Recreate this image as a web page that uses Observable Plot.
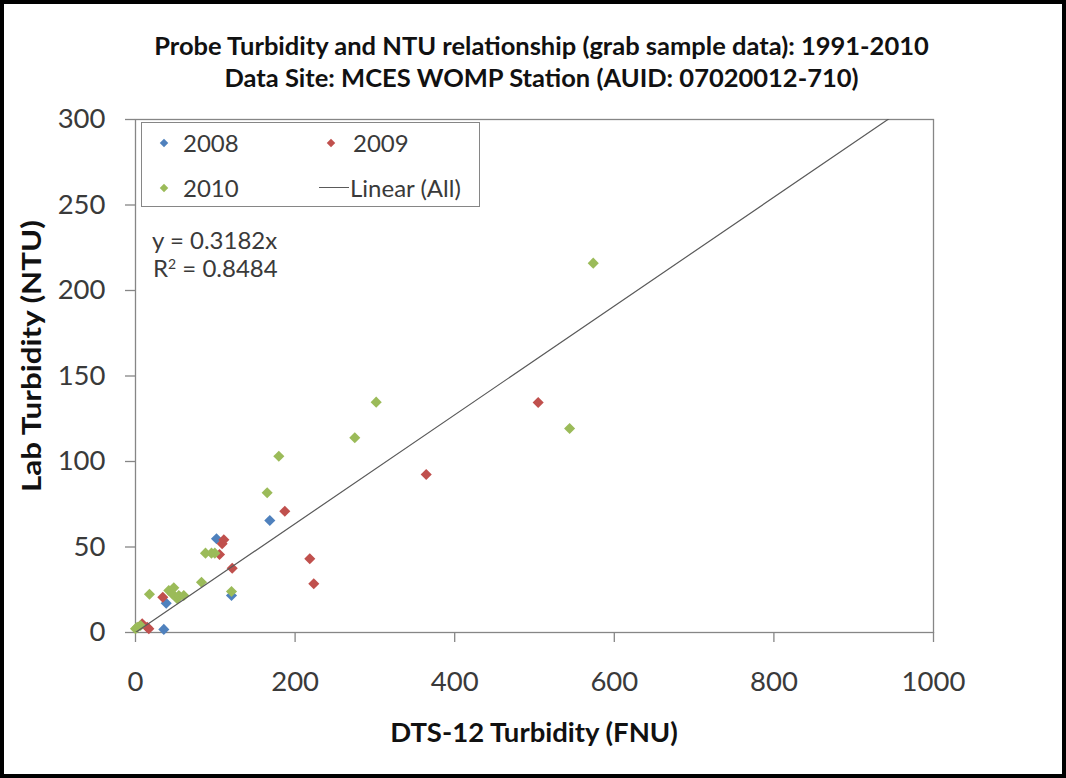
<!DOCTYPE html>
<html>
<head>
<meta charset="utf-8">
<script src="https://cdn.jsdelivr.net/npm/d3@7"></script>
<script src="https://cdn.jsdelivr.net/npm/@observablehq/plot@0.6"></script>
<style>
  html, body { margin: 0; padding: 0; background: #fff; }
  #wrap { position: relative; width: 1066px; height: 778px; overflow: hidden; font-family: Lato, "Open Sans", sans-serif; color: #3a3a3a; }
  #chart { position: absolute; left: 0; top: 0; }
  .abs { position: absolute; white-space: nowrap; }
  .title { left: 0; width: 1083px; text-align: center; font-weight: bold; font-size: 25.5px; color: #111; line-height: 30px; }
  .axtitle { font-weight: bold; font-size: 27.5px; color: #111; line-height: 30px; }
  #frame { position: absolute; left: 0; top: 0; width: 1066px; height: 778px; box-sizing: border-box; border: 4px solid #000; pointer-events: none; }
  #legend { position: absolute; left: 141px; top: 122px; width: 339px; height: 85px; box-sizing: border-box; border: 1px solid #868686; background: #fff; }
  .lg { position: absolute; font-size: 24px; line-height: 28px; color: #3a3a3a; }
  .dia { position: absolute; width: 6px; height: 6px; transform: rotate(45deg); }
  .eq { font-size: 24px; line-height: 28px; color: #3a3a3a; }
</style>
</head>
<body>
<div id="wrap">
  <div id="chart"></div>
  <div class="abs title" style="top:30px">Probe Turbidity and NTU relationship (grab sample data): 1991-2010</div>
  <div class="abs title" style="top:62px">Data Site: MCES WOMP Station (AUID: 07020012-710)</div>
  <div class="abs axtitle" style="left:534px; top:717px; transform: translateX(-50%);">DTS-12 Turbidity (FNU)</div>
  <div class="abs axtitle" style="left:31px; top:356px; transform: translate(-50%,-50%) rotate(-90deg) scaleX(1.14);">Lab Turbidity (NTU)</div>
  <div id="legend"></div>
  <div class="abs eq" style="left:152px; top:226px">y = 0.3182x</div>
  <div class="abs eq" style="left:153px; top:254px">R<sup style="font-size:14px; vertical-align: 8px; line-height:0">2</sup> = 0.8484</div>
  <div id="frame"></div>
</div>
<script>
// ---- Data ----
const years = ["2008", "2009", "2010"];
const colors = ["#4F81BD", "#C0504D", "#9BBB59"];

const x2008 = [35.5, 38.5, 101.5, 120.3, 168.3];
const y2008 = [1.8, 17.1, 54.8, 21.6, 65.5];

const x2009 = [8.4, 14.7, 16.7, 34.2, 105.3, 108.6, 110.7, 121.2, 187.1, 218.4, 223.4, 364.3, 504.6];
const y2009 = [5.1, 3.1, 2.2, 20.6, 45.6, 51.9, 54.2, 37.6, 70.9, 43.1, 28.5, 92.4, 134.5];

const x2010 = [0, 2.1, 6.3, 17.5, 41.7, 46, 48, 52.3, 54.3, 60.5, 82.7, 87.7, 95.2, 99.4, 120.3, 165, 179.6, 274.8, 301.6, 544, 573.6];
const y2010 = [2.2, 3.1, 4.1, 22.4, 24.6, 22.6, 26.1, 19.7, 21.6, 21.6, 29.4, 46.4, 46.4, 46.4, 24, 81.7, 103.1, 113.9, 134.7, 119.3, 216];

const slope = 0.3182;      // y = 0.3182x
const rSquared = 0.8484;
const trendX = [0, 1000];

const xTicks = [0, 200, 400, 600, 800, 1000];
const yTicks = [0, 50, 100, 150, 200, 250, 300];

// ---- Build table ----
const seriesX = [x2008, x2009, x2010];
const seriesY = [y2008, y2009, y2010];
const points = [];
years.forEach((yr, i) => {
  seriesX[i].forEach((xv, j) => points.push({year: yr, x: xv, y: seriesY[i][j]}));
});
const trend = trendX.map(x => ({x, y: slope * x}));

const chart = Plot.plot({
  width: 1066,
  height: 778,
  marginLeft: 135,
  marginRight: 133,
  marginTop: 119,
  marginBottom: 146,
  style: {fontFamily: "Lato, 'Open Sans', sans-serif", fontSize: "27.5px", color: "#3a3a3a", background: "transparent", overflow: "visible"},
  x: {domain: [0, 1000], label: null},
  y: {domain: [0, 300], label: null},
  color: {domain: years, range: colors},
  marks: [
    Plot.frame({stroke: "#868686", strokeWidth: 1.3}),
    Plot.axisX({ticks: xTicks, tickSize: 10, tickPadding: 29, stroke: "#868686", strokeWidth: 1.3, tickFormat: d => String(d), fill: "#3a3a3a", fontSize: 27.5}),
    Plot.axisY({ticks: yTicks, tickSize: 10, tickPadding: 20, stroke: "#868686", strokeWidth: 1.3, tickFormat: d => String(d), fill: "#3a3a3a", fontSize: 27.5}),
    Plot.dot(points, {x: "x", y: "y", fill: "year", symbol: "diamond2", r: 5, stroke: null}),
    Plot.line(trend, {x: "x", y: "y", stroke: "#5a5a5a", strokeWidth: 1.2, clip: true})
  ]
});
document.getElementById("chart").appendChild(chart);

// ---- Legend ----
const legend = document.getElementById("legend");
const items = [
  {label: years[0], color: colors[0], dx: 22, tx: 41, cy: 20},
  {label: years[1], color: colors[1], dx: 189, tx: 211, cy: 20},
  {label: years[2], color: colors[2], dx: 22, tx: 41, cy: 65}
];
items.forEach(it => {
  const d = document.createElement("div");
  d.className = "dia";
  d.style.background = it.color;
  d.style.left = (it.dx - 3) + "px";
  d.style.top = (it.cy - 3) + "px";
  legend.appendChild(d);
  const t = document.createElement("div");
  t.className = "lg";
  t.textContent = it.label;
  t.style.left = it.tx + "px";
  t.style.top = (it.cy - 14) + "px";
  legend.appendChild(t);
});
const ln = document.createElement("div");
ln.style.cssText = "position:absolute;left:177px;top:64px;width:30px;height:0;border-top:1.2px solid #5a5a5a;";
legend.appendChild(ln);
const lt = document.createElement("div");
lt.className = "lg";
lt.textContent = "Linear (All)";
lt.style.left = "208px";
lt.style.top = (65 - 14) + "px";
legend.appendChild(lt);
</script>
</body>
</html>
